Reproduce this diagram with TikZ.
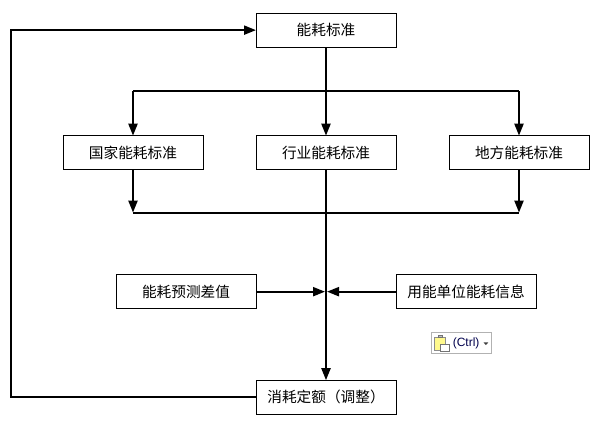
\documentclass[tikz,border=0pt]{standalone}
\usepackage{fontspec}
\usepackage{tikz}
\usetikzlibrary{arrows.meta, positioning, calc}
\newfontfamily\cjk{Noto Sans CJK SC}
\setmainfont{Liberation Sans}

\begin{document}
\begin{tikzpicture}[
  box/.style={rectangle, draw=black, line width=0.75pt, align=center, font=\cjk\fontsize{11}{13}\selectfont,
              minimum height=25.5pt, minimum width=105pt, inner sep=0pt, outer sep=0pt},
  arr/.style={-{Triangle[length=9pt, width=6.75pt]}, line width=1.6pt},
  lin/.style={line width=1.6pt}
]
\useasboundingbox (0,0) rectangle (447.75pt,-318.75pt);
\node[box] (standard) at (244.5pt,-22.6pt) {能耗标准};
\node[box, below=66.4pt of standard] (industry) {行业能耗标准};
\node[box, left=39.75pt of industry] (national) {国家能耗标准};
\node[box, right=39.75pt of industry] (regional) {地方能耗标准};
\node[box, below left=78.75pt and 0pt of industry.south west] (forecast) {能耗预测差值};
\node[box, below right=78.75pt and 0pt of industry.south east] (enterprise) {用能单位能耗信息};
\node[box, below=157.9pt of industry] (quota) {消耗定额（调整）};
% junctions
\coordinate (split) at ($(standard.south)+(0,-33pt)$);
\coordinate (merge) at ($(industry.south)+(0,-32.2pt)$);
\coordinate (mergeL) at (national.south |- merge);
\coordinate (mergeR) at (regional.south |- merge);
\coordinate (splitL) at (national.north |- split);
\coordinate (splitR) at (regional.north |- split);
\coordinate (meet) at (industry.south |- forecast.east);
\coordinate (loopB) at ($(quota.west)+(-183.75pt,0)$);
\coordinate (loopT) at (loopB |- standard.west);
% connectors
\draw[arr] (standard) -- (industry);
\draw[lin] (splitL) -- (splitR);
\draw[arr] (splitL) -- (national);
\draw[arr] (splitR) -- (regional);
\draw[arr] (national) -- (mergeL);
\draw[arr] (regional) -- (mergeR);
\draw[lin] (mergeL) -- (mergeR);
\draw[arr] (industry) -- (quota);
\draw[arr] (forecast) -- ([xshift=-0.75pt]meet);
\draw[arr] (enterprise) -- ([xshift=0.75pt]meet);
\draw[arr] (quota.west) -- (loopB) -- (loopT) -- (standard.west);
% paste button
\node[draw=black!30, line width=0.75pt, minimum width=45pt, minimum height=15.75pt, inner sep=0pt] (paste)
  at (345.75pt,-257.6pt) {};
\node[anchor=west, inner sep=0pt, font=\fontsize{9}{10}\selectfont, text=black!70!blue] (ctrl)
  at ([xshift=16.5pt]paste.west) {(Ctrl)};
\fill[black!75] ([xshift=-6pt,yshift=0.8pt]paste.east) -- ++(3.6pt,0) -- ++(-1.8pt,-2pt) -- cycle;
\draw[black!45, fill=yellow!45, line width=0.5pt] ([xshift=3pt,yshift=-5.5pt]paste.west) rectangle ++(8pt,10pt);
\draw[black!55, fill=black!25, line width=0.5pt] ([xshift=5.5pt,yshift=4.5pt]paste.west) rectangle ++(3pt,1.8pt);
\draw[black!55, fill=white, line width=0.5pt] ([xshift=7pt,yshift=-6pt]paste.west) rectangle ++(7pt,5.5pt);
\end{tikzpicture}
\end{document}
